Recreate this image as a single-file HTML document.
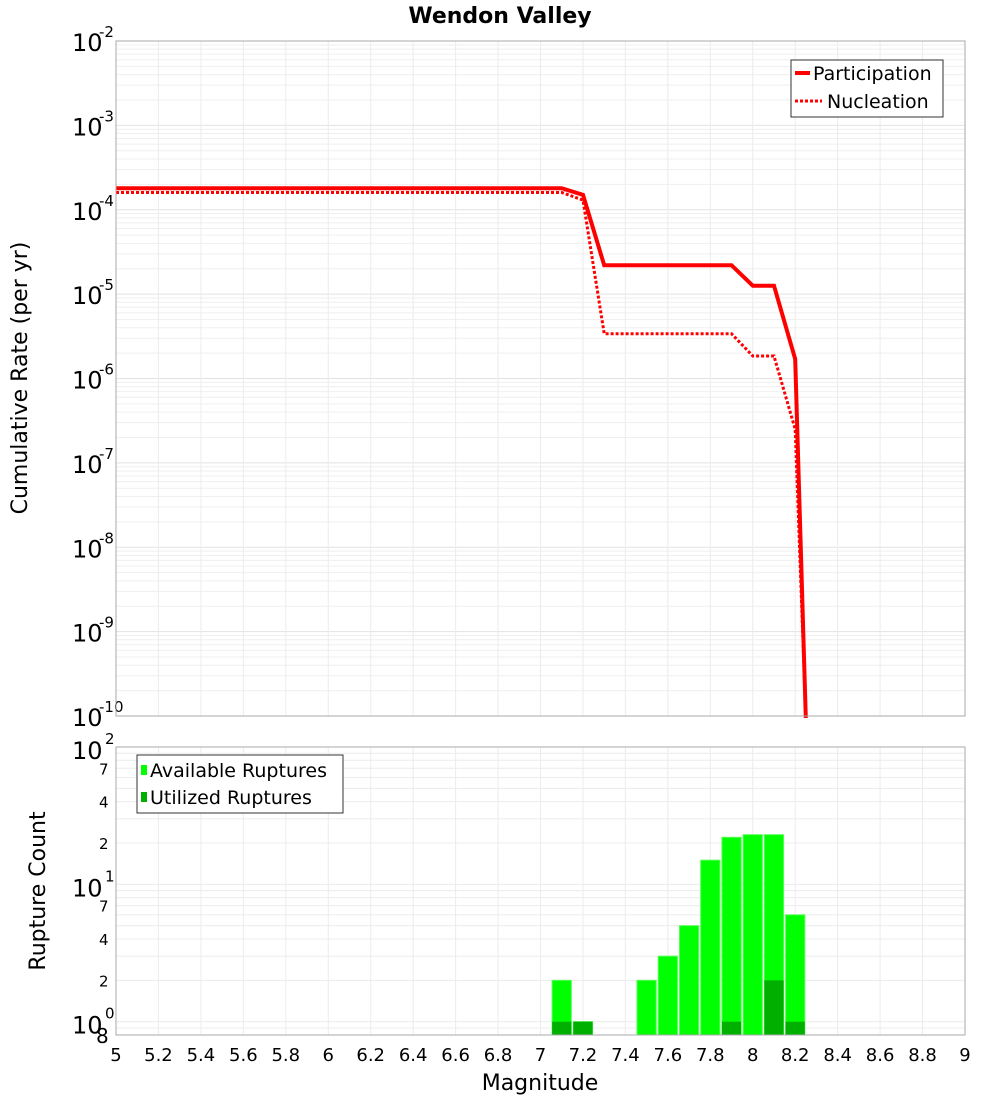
<!DOCTYPE html>
<html><head><meta charset="utf-8"><style>
body{margin:0;background:#fff;font-family:"Liberation Sans","DejaVu Sans",sans-serif}
svg text{font-family:"DejaVu Sans","Liberation Sans",sans-serif}
</style></head><body>
<svg id="c" width="1000" height="1100" xmlns="http://www.w3.org/2000/svg">
<text x="500" y="23" text-anchor="middle" font-size="22" font-weight="bold" font-family="Liberation Sans">Wendon Valley</text>
<g id="topg"></g>
<g id="botg"></g>
<text x="27" y="378" transform="rotate(-90 27 378)" text-anchor="middle" font-size="22">Cumulative Rate (per yr)</text>
<text x="45" y="891" transform="rotate(-90 45 891)" text-anchor="middle" font-size="22">Rupture Count</text>
<text x="540" y="1090" text-anchor="middle" font-size="22">Magnitude</text>
</svg>
<script>
const mags=[5.0,5.1,5.2,5.3,5.4,5.5,5.6,5.7,5.8,5.9,6.0,6.1,6.2,6.3,6.4,6.5,6.6,6.7,6.8,6.9,7.0,7.1,7.2,7.3,7.4,7.5,7.6,7.7,7.8,7.9,8.0,8.1,8.2,8.25];
const participation=[1.8e-4,1.8e-4,1.8e-4,1.8e-4,1.8e-4,1.8e-4,1.8e-4,1.8e-4,1.8e-4,1.8e-4,1.8e-4,1.8e-4,1.8e-4,1.8e-4,1.8e-4,1.8e-4,1.8e-4,1.8e-4,1.8e-4,1.8e-4,1.8e-4,1.8e-4,1.5e-4,2.2e-5,2.2e-5,2.2e-5,2.2e-5,2.2e-5,2.2e-5,2.2e-5,1.26e-5,1.26e-5,1.7e-6,1e-11];
const nucleation=[1.6e-4,1.6e-4,1.6e-4,1.6e-4,1.6e-4,1.6e-4,1.6e-4,1.6e-4,1.6e-4,1.6e-4,1.6e-4,1.6e-4,1.6e-4,1.6e-4,1.6e-4,1.6e-4,1.6e-4,1.6e-4,1.6e-4,1.6e-4,1.6e-4,1.6e-4,1.3e-4,3.4e-6,3.4e-6,3.4e-6,3.4e-6,3.4e-6,3.4e-6,3.4e-6,1.85e-6,1.85e-6,2.5e-7,1e-11];
const binMags=[7.1,7.2,7.5,7.6,7.7,7.8,7.9,8.0,8.1,8.2];
const available=[2,1,2,3,5,15,22,23,23,6];
const utilized=[1,1,0,0,0,0,1,0,2,1];
const xTicks=[5,5.2,5.4,5.6,5.8,6,6.2,6.4,6.6,6.8,7,7.2,7.4,7.6,7.8,8,8.2,8.4,8.6,8.8,9];
const NS="http://www.w3.org/2000/svg";
const L=116,R=965,T1=41,B1=716,T2=747,B2=1035;
const X=m=>L+(m-5)/4*(R-L);
const Y1=v=>T1+(-2-Math.log10(v))/8*(B1-T1);
const lmin=Math.log10(0.8);
const Y2=v=>B2-(Math.log10(v)-lmin)/(2-lmin)*(B2-T2);
function el(p,t,a){const e=document.createElementNS(NS,t);for(const k in a)e.setAttribute(k,a[k]);p.appendChild(e);return e;}
const topG=document.getElementById('topg'),botG=document.getElementById('botg');
for(let d=-10;d<-2;d++)for(let k=1;k<10;k++){const y=Y1(k*Math.pow(10,d));
const g=el(topG,'line',{x1:L,x2:R,y1:y,y2:y,stroke:k==1?'#e2e2e2':'#efefef','stroke-width':1});

}
for(let d=-1;d<2;d++)for(let k=1;k<10;k++){const v=k*Math.pow(10,d);if(v<0.8)continue;const y=Y2(v);
const g=el(botG,'line',{x1:L,x2:R,y1:y,y2:y,stroke:'#ececec','stroke-width':1});

}
xTicks.forEach(m=>{const x=X(m);
for(const [a,b] of [[T1,B1],[T2,B2]]){const g=el(topG,'line',{x1:x,x2:x,y1:a,y2:b,stroke:'#ececec'});

}
const t=el(botG,'text',{x:x,y:1061,'text-anchor':'middle','font-size':18});t.textContent=m;

});
for(let d=-10;d<=-2;d++){const y=Y1(Math.pow(10,d));
const t=el(topG,'text',{x:72,y:y+10,'font-size':24});t.textContent='10';


const s=el(topG,'text',{x:99,y:y-4,'font-size':15});s.textContent=d;

}
function path(vals,dash,name){let d='';mags.forEach((m,i)=>{let y=Math.min(Y1(vals[i]),B1+2);d+=(i?'L':'M')+X(m).toFixed(1)+','+y.toFixed(1);});
const p=el(topG,'path',{d:d,fill:'none',stroke:'#ff0000','stroke-width':dash?3:4,'stroke-dasharray':dash?'3,2':'none'});

}
path(nucleation,true,'nucleation-line');path(participation,false,'participation-line');
el(topG,'rect',{x:L,y:T1,width:R-L,height:B1-T1,fill:'none',stroke:'#aaa'});
const lg=el(topG,'g',{});


el(lg,'rect',{x:791,y:60,width:152,height:57,fill:'#fff',stroke:'#333'});
el(lg,'line',{x1:795,x2:810,y1:73,y2:73,stroke:'#f00','stroke-width':4});
el(lg,'line',{x1:795,x2:822,y1:101,y2:101,stroke:'#f00','stroke-width':3,'stroke-dasharray':'3,2'});
let t=el(lg,'text',{x:813,y:80,'font-size':19});t.textContent='Participation';
t=el(lg,'text',{x:827,y:108,'font-size':19});t.textContent='Nucleation';
[[1,0],[10,1],[100,2]].forEach(([v,e])=>{const y=Y2(v);
const a=el(botG,'text',{x:72,y:y+12,'font-size':24});a.textContent='10';


const b=el(botG,'text',{x:105,y:y-3,'font-size':15});b.textContent=e;

});
[[2,'2'],[4,'4'],[7,'7'],[20,'2'],[40,'4'],[70,'7']].forEach(([v,s])=>{const a=el(botG,'text',{x:99,y:Y2(v)+6,'font-size':15});a.textContent=s;

});
t=el(botG,'text',{x:96,y:1043,'font-size':20});t.textContent='8';
const bw=(X(5.1)-X(5))-2;
binMags.forEach((m,i)=>{const x=X(m)-bw/2;
const y=Y2(available[i]);const r=el(botG,'rect',{x:x,y:y,width:bw,height:B2-y,fill:'#00ff00',stroke:'#55ff55','stroke-width':1});


if(utilized[i]>0){const yu=Y2(utilized[i]);const u=el(botG,'rect',{x:x,y:yu,width:bw,height:B2-yu,fill:'#00b000'});

}});
el(botG,'rect',{x:L,y:T2,width:R-L,height:B2-T2,fill:'none',stroke:'#aaa'});
const lg2=el(botG,'g',{});


el(lg2,'rect',{x:137,y:755,width:206,height:58,fill:'#fff',stroke:'#333'});
el(lg2,'rect',{x:141,y:765,width:6,height:10,fill:'#00ff00'});
el(lg2,'rect',{x:141,y:792,width:6,height:10,fill:'#00b000'});
t=el(lg2,'text',{x:150,y:777,'font-size':19});t.textContent='Available Ruptures';
t=el(lg2,'text',{x:150,y:804,'font-size':19});t.textContent='Utilized Ruptures';
</script>
</body></html>
